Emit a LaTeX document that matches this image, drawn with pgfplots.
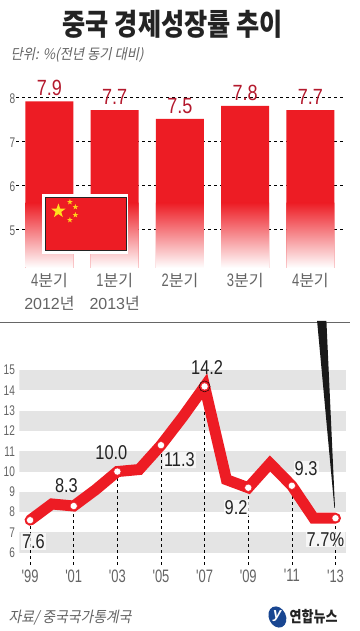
\documentclass[border=0pt]{standalone}
\usepackage{fontspec}
\usepackage{pgfplots}
\pgfplotsset{compat=1.18}
\usetikzlibrary{shapes.geometric}
\setmainfont{Liberation Sans}
\newfontfamily\kr{Noto Sans CJK KR}
\newfontfamily\krnar[FakeStretch=0.84]{Noto Sans CJK KR}
\newfontfamily\krit[FakeSlant=0.2,FakeStretch=0.92]{Noto Sans CJK KR}
\newfontfamily\nar[FakeStretch=0.82]{Liberation Sans}
\newfontfamily\narr[FakeStretch=0.72]{Liberation Sans}
\definecolor{barred}{RGB}{237,28,36}
\definecolor{valred}{RGB}{180,25,45}
\definecolor{txtgray}{RGB}{100,100,100}
\definecolor{band}{RGB}{228,228,228}
\definecolor{ink}{RGB}{35,35,35}
\definecolor{logoblue}{RGB}{25,70,145}
\definecolor{flagyel}{RGB}{255,225,30}
\begin{document}
\begin{tikzpicture}[x=1pt,y=1pt]
\path[fill=white] (0,0) rectangle (359,631);
% upper chart
\begin{axis}[
  at={(16pt,363pt)},anchor=south west,scale only axis,
  width=327pt,height=193pt,
  xmin=-0.506,xmax=4.506,ymin=4.114,ymax=8.5,
  axis line style={draw=none},tick style={draw=none},
  ymajorgrids,grid style={black,dashed,line width=0.5pt},
  ytick={5,6,7,8},yticklabels={5,6,7,8},
  yticklabel style={font=\narr\fontsize{14}{14}\selectfont,text=txtgray,anchor=center,xshift=-4pt,yshift=-2pt},
  xtick={0,1,2,3,4},
  xticklabels={{\narr\fontsize{18}{23}\selectfont 4{\kr\fontsize{16}{23}\selectfont 분기}\\2012{\kr\fontsize{16}{23}\selectfont 년}},{\narr\fontsize{18}{23}\selectfont 1{\kr\fontsize{16}{23}\selectfont 분기}\\2013{\kr\fontsize{16}{23}\selectfont 년}},{\narr\fontsize{18}{23}\selectfont 2{\kr\fontsize{16}{23}\selectfont 분기}},{\narr\fontsize{18}{23}\selectfont 3{\kr\fontsize{16}{23}\selectfont 분기}},{\narr\fontsize{18}{23}\selectfont 4{\kr\fontsize{16}{23}\selectfont 분기}}},
  xticklabel style={font=\fontsize{16}{23}\selectfont,text=txtgray,align=center,anchor=north,yshift=-2pt},
]
\addplot[ybar,bar shift=0pt,bar width=48pt,draw=none,fill=barred,
  nodes near coords,
  nodes near coords style={font=\nar\fontsize{22}{22}\selectfont,text=valred,anchor=south,yshift=2pt,
    /pgf/number format/fixed,/pgf/number format/fixed zerofill,/pgf/number format/precision=1,/pgf/number format/assume math mode=true}]
  coordinates {(0,7.9)(1,7.7)(2,7.5)(3,7.8)(4,7.7)};
\addplot[ybar,bar shift=0pt,bar width=48pt,draw=none,top color=barred,middle color={rgb,255:red,241;green,75;blue,55},bottom color=white]
  coordinates {(0,5.6)(1,5.6)(2,5.6)(3,5.6)(4,5.6)};
\end{axis}
% lower chart
\begin{axis}[
  at={(19pt,66pt)},anchor=south west,scale only axis,
  width=327pt,height=215.07pt,
  xmin=1998.51,xmax=2013.5,ymin=5.39,ymax=16,
  clip mode=individual,
  axis line style={draw=none},tick style={draw=none},
  ytick={6,7,8,9,10,11,12,13,14,15},
  yticklabels={6,7,8,9,10,11,12,13,14,15},
  yticklabel style={font=\narr\fontsize{14}{14}\selectfont,text=txtgray,anchor=east,xshift=-1pt},
  xtick={1999,2001,2003,2005,2007,2009,2011,2013},
  xticklabels={'99,'01,'03,'05,'07,'09,'11,'13},
  xticklabel style={font=\narr\fontsize{18}{18}\selectfont,text=txtgray,anchor=north,yshift=-1pt},
]
\addplot[draw=none,fill=band] coordinates {(1998.51,14)(2013.5,14)(2013.5,15)(1998.51,15)} -- cycle;
\addplot[draw=none,fill=band] coordinates {(1998.51,12)(2013.5,12)(2013.5,13)(1998.51,13)} -- cycle;
\addplot[draw=none,fill=band] coordinates {(1998.51,10)(2013.5,10)(2013.5,11)(1998.51,11)} -- cycle;
\addplot[draw=none,fill=band] coordinates {(1998.51,8)(2013.5,8)(2013.5,9)(1998.51,9)} -- cycle;
\addplot[draw=none,fill=band] coordinates {(1998.51,6)(2013.5,6)(2013.5,7)(1998.51,7)} -- cycle;
\addplot[ycomb,black,dashed,line width=0.5pt,mark=none]
  coordinates {(1999,7.6)(2001,8.3)(2003,10.0)(2005,11.3)(2007,14.2)(2009,9.2)(2011,9.3)(2013,7.7)};
\addplot[barred,line width=11pt,line join=miter,miter limit=3,line cap=round,mark=none]
  coordinates {(1999,7.6)(2000,8.4)(2001,8.3)(2002,9.1)(2003,10.0)(2004,10.1)(2005,11.3)(2006,12.7)(2007,14.2)(2008,9.6)(2009,9.2)(2010,10.4)(2011,9.3)(2012,7.7)(2013,7.7)};
\addplot[only marks,mark=*,mark size=5.5pt,mark options={fill=barred,draw=none}]
  coordinates {(2007,14.2)};
\addplot[only marks,mark=*,mark size=3.6pt,mark options={fill=white,draw=barred,line width=0.4pt}]
  coordinates {(1999,7.6)(2001,8.3)(2003,10.0)(2005,11.3)(2007,14.2)(2009,9.2)(2011,9.3)(2013,7.7)};
\end{axis}
\begin{scope}[shift={(0,631)},y=-1pt]
% texts (image coordinates)
\node[font=\krnar\bfseries\fontsize{30}{30}\selectfont,text=ink] at (172.5,24) {중국 경제성장률 추이};
\node[font=\krit\fontsize{14.5}{14.5}\selectfont,text=txtgray,anchor=west,inner sep=0pt] at (10,55) {단위: \%(전년 동기 대비)};
% flag
\fill[white] (42,194) rectangle (128,254);
\draw[fill=barred,draw=ink,line width=0.8pt] (45,197.5) rectangle (126,250);
\node[star,star points=5,star point ratio=2.5,fill=flagyel,inner sep=0pt,minimum size=15pt] at (58,211) {};
\foreach \x/\y in {69.5/202,75/207,75/215,69.5/220}
  \node[star,star points=5,star point ratio=2.5,fill=flagyel!85!orange,inner sep=0pt,minimum size=6pt] at (\x,\y) {};
% section rule and pointer
\draw[line width=0.8pt,color=black!60] (0,322.5) -- (350,322.5);
\fill[black!90] (316.7,321) -- (326,321) -- (334.6,508) -- (334,508) -- cycle;
% line labels
\begin{scope}[every node/.style={font=\nar\fontsize{20}{20}\selectfont,text=ink,inner sep=1pt}]
\node[fill=white,fill opacity=0.7,text opacity=1] at (33,541.5) {7.6};
\node at (66,485.7) {8.3};
\node at (111,452.7) {10.0};
\node[fill=white,fill opacity=0.7,text opacity=1] at (179,460) {11.3};
\node at (206.7,367.7) {14.2};
\node[fill=white,fill opacity=0.7,text opacity=1] at (235.7,508) {9.2};
\node[fill=white,fill opacity=0.7,text opacity=1] at (305.7,469) {9.3};
\node[fill=white,fill opacity=0.7,text opacity=1] at (325,539.5) {7.7\%};
\end{scope}
% footer
\node[font=\krit\fontsize{15}{15}\selectfont,text=txtgray,anchor=west,inner sep=0pt] at (8,618) {자료/ 중국국가통계국};
\fill[logoblue,rotate around={25:(277,617)}] (277,617) ellipse (8.5 and 11);
\node[font=\bfseries\itshape\fontsize{15}{15}\selectfont,text=white,inner sep=0pt] at (277,616) {y};
\node[font=\krnar\bfseries\fontsize{15.5}{15.5}\selectfont,text=ink,anchor=west,inner sep=0pt] at (289,617) {연합뉴스};
\end{scope}
\end{tikzpicture}
\end{document}
